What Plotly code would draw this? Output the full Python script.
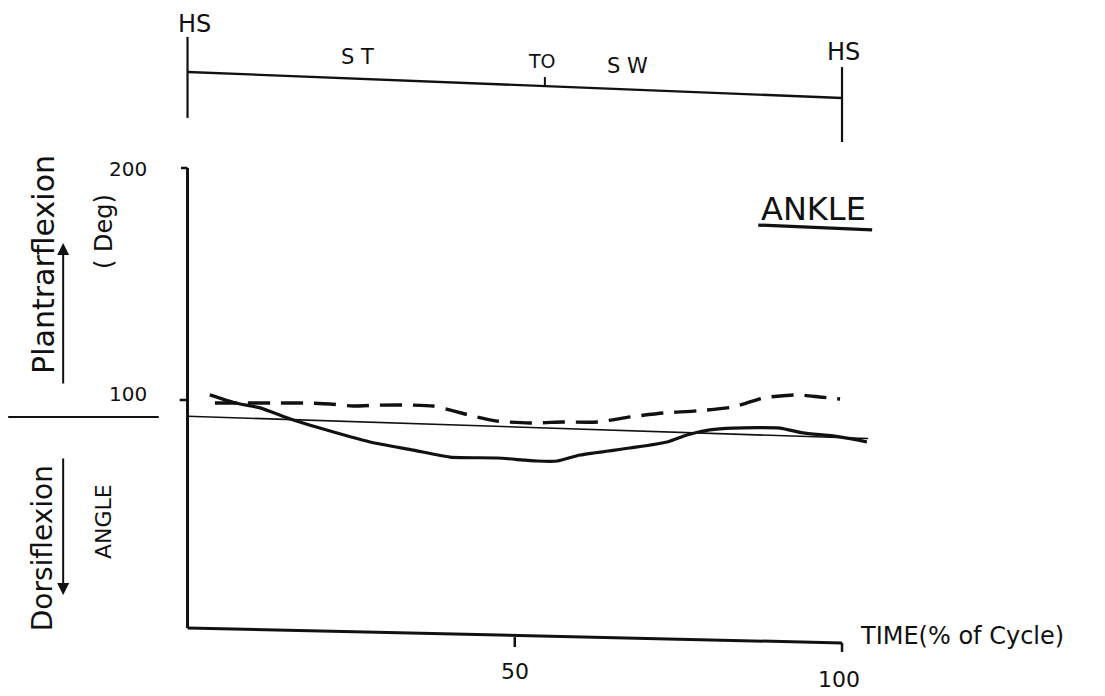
import plotly.graph_objects as go

# ---- data ----
time_solid = [3.4, 7.3, 11.1, 15.7, 20.2, 27.9, 34.5, 40.1, 47.3, 53.4, 56.5, 60.0,
              67.6, 73.3, 76.3, 79.8, 83.4, 90.5, 94.0, 98.6, 102.3, 103.8]
angle_solid = [102.2, 98.7, 96.6, 91.8, 87.9, 81.9, 78.4, 75.4, 75.0, 73.7, 73.7, 76.3,
               79.3, 81.9, 84.9, 87.1, 87.9, 87.9, 85.8, 84.5, 82.8, 81.9]

time_dashed = [4.2, 9.1, 14.1, 18.3, 21.8, 25.3, 29.4, 34.5, 37.5, 40.6, 43.6, 47.3,
               52.3, 57.4, 62.6, 67.6, 72.7, 77.8, 83.4, 88.0, 93.1, 96.6, 99.7]
angle_dashed = [98.7, 98.7, 98.7, 98.7, 98.3, 97.4, 97.8, 97.8, 97.4, 95.3, 93.1, 90.9,
                90.1, 90.5, 90.5, 92.7, 94.4, 95.3, 97.0, 100.9, 102.2, 101.3, 100.4]

ref_time = [0, 104]
ref_angle = [93.0, 83.4]

y_tick_vals = [200, 100]
y_tick_text = ["200", "100"]
x_tick_vals = [50, 100]
x_tick_text = ["50", "100"]

event_labels = ["HS", "TO", "HS"]
event_x = [0, 54.6, 100]
phase_labels = ["S T", "S W"]
phase_x = [26.0, 67.2]

FONT = "DejaVu Sans"
BLACK = "#111111"

fig = go.Figure()

# thin neutral reference line
fig.add_trace(go.Scatter(x=ref_time, y=ref_angle, mode="lines",
                         line=dict(color=BLACK, width=1.6), hoverinfo="skip"))
# dashed curve
fig.add_trace(go.Scatter(x=time_dashed, y=angle_dashed, mode="lines",
                         line=dict(color=BLACK, width=3.4, dash="22px,11px",
                                   shape="spline", smoothing=0.6), hoverinfo="skip"))
# solid curve
fig.add_trace(go.Scatter(x=time_solid, y=angle_solid, mode="lines",
                         line=dict(color=BLACK, width=3.2, shape="spline", smoothing=0.6),
                         hoverinfo="skip"))

shapes = []
def seg(x0, y0, x1, y1, w=2.5):
    shapes.append(dict(type="line", xref="x", yref="y", x0=x0, y0=y0, x1=x1, y1=y1,
                       line=dict(color=BLACK, width=w)))

# axes (slightly skewed like the scan)
seg(0, 200, 0, 1.7, 3)
seg(0, 1.7, 100, -4.7, 3)
seg(100, -4.7, 100, -8.6, 2.5)
seg(50, -2.2, 50, -6.5, 2.5)
seg(0, 100, -1.2, 100, 2.5)
seg(0, 200, -1.0, 200, 2.5)
# left separator line
seg(-27.4, 92.7, -4.4, 92.7, 2)
# gait phase bar
seg(0, 241.4, 100, 230.2, 2.4)
seg(0, 256.5, 0, 221.6, 2.2)
seg(100, 243.5, 100, 211.2, 2.2)
seg(54.6, 235.3, 54.6, 239.2, 2)
# ANKLE underline
seg(87.2, 175.4, 104.6, 173.3, 3.2)

annotations = []
def txt(x, y, s, size, angle=0, xanchor="center", weight="normal"):
    annotations.append(dict(x=x, y=y, xref="x", yref="y", text=s, showarrow=False,
                            textangle=angle, xanchor=xanchor, yanchor="middle",
                            font=dict(family=FONT, size=size, color=BLACK, weight=weight)))

for v, t in zip(y_tick_vals, y_tick_text):
    txt(-9.1, v - 0.6 if v == 200 else v + 2.4, t, 20)
for v, t in zip(x_tick_vals, x_tick_text):
    txt(v - (0.0 if v == 50 else 0.5), -17.2 if v == 50 else -20.3, t, 22)

event_y = [262.1, 246.1, 250.0]
event_size = [24, 19, 24]
event_dx = [1.0, -0.4, 0.15]
for x, lab, y, s, dx in zip(event_x, event_labels, event_y, event_size, event_dx):
    txt(x + dx, y, lab, s)
for x, lab, y in zip(phase_x, phase_labels, [247.8, 244.0]):
    txt(x, y, lab, 21)

txt(95.7, 182.3, "ANKLE", 32)
txt(102.5, -1.7, "TIME(% of Cycle)", 24, xanchor="left")
txt(-22.1, 158.6, "Plantrarflexion", 30, angle=-90)
txt(-12.75, 172.4, "( Deg)", 24, angle=-90)
txt(-22.2, 36.2, "Dorsiflexion", 28, angle=-90)
txt(-12.9, 47.4, "ANGLE", 22, angle=-90)

# arrows
annotations.append(dict(x=-19.0, y=167.7, ax=-19.0, ay=106.5, xref="x", yref="y",
                        axref="x", ayref="y", showarrow=True, arrowhead=2, arrowsize=1.2,
                        arrowwidth=2, arrowcolor=BLACK, text=""))
annotations.append(dict(x=-19.0, y=15.9, ax=-19.0, ay=75.4, xref="x", yref="y",
                        axref="x", ayref="y", showarrow=True, arrowhead=2, arrowsize=1.2,
                        arrowwidth=2, arrowcolor=BLACK, text=""))

fig.update_layout(
    width=1105, height=696, autosize=False,
    margin=dict(l=0, r=0, t=0, b=0),
    paper_bgcolor="white", plot_bgcolor="white",
    showlegend=False,
    xaxis=dict(range=[-28.65, 140.18], visible=False, fixedrange=True),
    yaxis=dict(range=[-27.59, 272.41], visible=False, fixedrange=True),
    shapes=shapes, annotations=annotations,
)

fig.write_html(
    "out.html",
    config={"displayModeBar": False},
    post_script="document.body.style.margin='0';document.body.style.overflow='hidden';",
)
